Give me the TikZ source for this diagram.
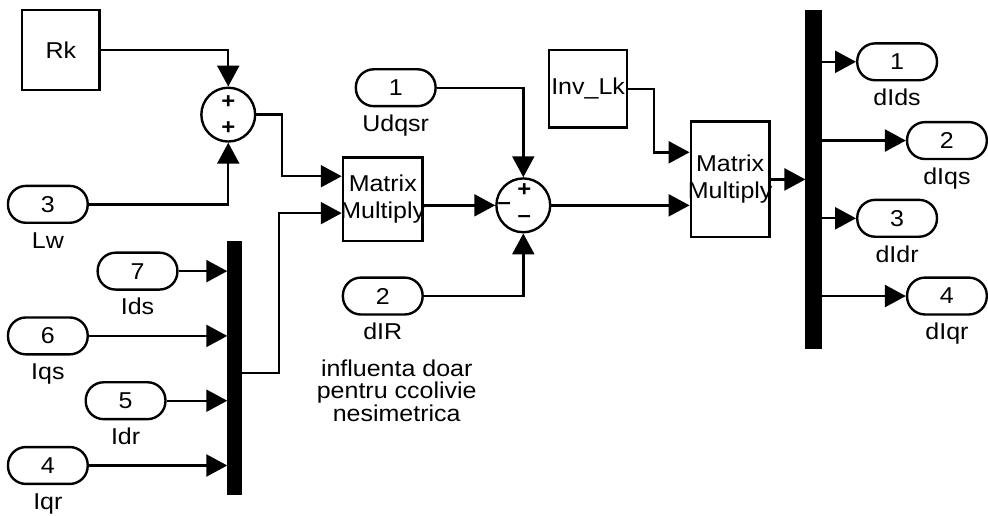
\documentclass[tikz,border=0pt]{standalone}
\usepackage{fontspec}
\setmainfont{Liberation Sans}[FakeStretch=1.09]
\usetikzlibrary{arrows.meta}
\newcommand{\port}[5]{\node[port] (#1) at (#2,#3) {#4};
  \node[plabel] (#1l) at ([yshift=-44pt]#1.center) {#5};}
\newcommand{\sgn}[4]{\node[sgnfont] (#1) at (#2,#3) {#4};}
\newcommand{\blk}[6]{\node[blk,minimum width=#4pt,minimum height=#5pt] (#1) at (#2,#3) {};
  \node[align=center,inner sep=0pt] (#1t) at (#1.center) {#6};}

\begin{document}
\begin{tikzpicture}[x=1pt,y=-1pt,line width=2.4pt,
  font=\fontsize{23}{27}\selectfont,
  blk/.style={draw,inner sep=0pt},
  port/.style={draw,rounded corners=18pt,minimum width=80pt,minimum height=37pt,inner sep=0pt},
  plabel/.style={anchor=base,inner sep=0pt},
  sumblk/.style={draw,circle,minimum size=54pt,inner sep=0pt},
  sgnfont/.style={inner sep=0pt,font=\fontsize{22}{22}\selectfont\bfseries},
  bar/.style={fill=black,draw=none,inner sep=0pt,outer sep=0pt},
  sig/.style={-{Triangle[length=21pt,width=22pt]}}]
\path[fill=white] (0,0) rectangle (988,517);

\blk{rk}{61}{50}{78}{80}{Rk}
\node[sumblk] (sum1) at (229,115) {};
\sgn{s1a}{229}{102}{+}
\sgn{s1b}{229}{128}{+}
\port{lw}{48}{205}{3}{Lw}

\node[bar,minimum width=15pt,minimum height=255pt] (mux) at (235.5,369.5) {};
\port{i7}{138}{272}{7}{Ids}
\port{i6}{48}{337}{6}{Iqs}
\port{i5}{126}{402}{5}{Idr}
\port{i4}{48}{467}{4}{Iqr}

\blk{mm1}{384}{200}{80}{84}{Matrix\\Multiply}
\node[sumblk] (sum2) at (525,206) {};
\sgn{s2a}{526}{191}{+}
\sgn{s2b}{506}{207}{\textendash}
\sgn{s2c}{526}{220}{\textendash}
\port{u1}{397}{88}{1}{Udqsr}
\port{dir}{384}{297}{2}{dIR}
\node[align=center,inner sep=0pt,font=\fontsize{23}{23}\selectfont] (note) at (398,392)
  {influenta doar\\pentru ccolivie\\nesimetrica};

\blk{invlk}{590}{89}{78}{78}{Inv\_Lk}
\blk{mm2}{732.5}{180}{79}{116}{Matrix\\Multiply}
\node[bar,minimum width=17pt,minimum height=340pt] (demux) at (816.5,180) {};
\port{o1}{900}{62}{1}{dIds}
\port{o2}{950}{141}{2}{dIqs}
\port{o3}{900}{219}{3}{dIdr}
\port{o4}{950}{297}{4}{dIqr}

\draw[sig] (rk.east) -| (sum1.north);
\draw[sig] (lw.east) -| (sum1.south);
\draw[sig] (sum1.east) -- ++(26,0) |- ([yshift=-20pt]mm1.north west);
\draw[sig] ([yshift=-5pt]mux.east) -- ++(37,0) |- ([yshift=-57pt]mm1.north west);
\foreach \i in {i7,i6,i5,i4}
  \draw[sig] (\i.east) -- (\i.east -| mux.west);
\draw[sig] (mm1.east |- sum2.west) -- (sum2.west);
\draw[sig] (u1.east) -| (sum2.north);
\draw[sig] (dir.east) -| (sum2.south);
\draw[sig] (invlk.east) -- ++(26,0) |- ([yshift=-32pt]mm2.north west);
\draw[sig] (sum2.east) -- (sum2.east -| mm2.west);
\draw[sig] (mm2.east) -- (mm2.east -| demux.west);
\foreach \o in {o1,o2,o3,o4}
  \draw[sig] (demux.east |- \o.west) -- (\o.west);
\end{tikzpicture}
\end{document}
